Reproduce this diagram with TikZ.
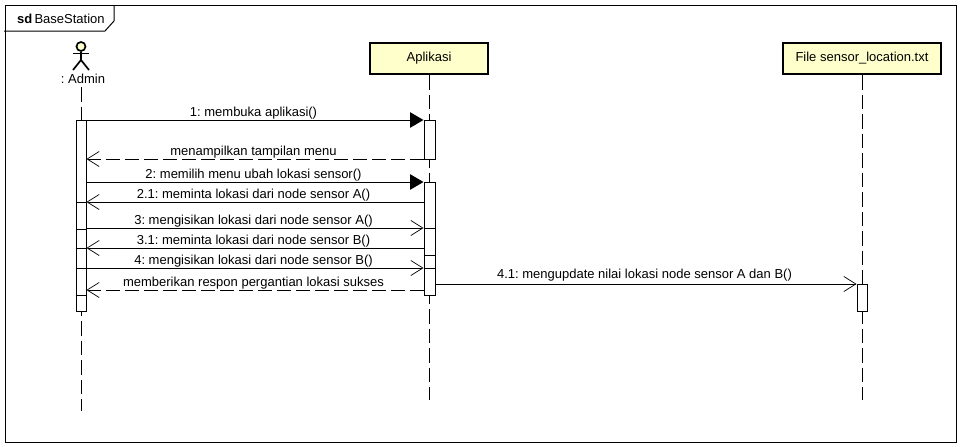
\documentclass[tikz,border=0pt]{standalone}
\usepackage{fontspec}
\setmainfont{Liberation Sans}
\usetikzlibrary{arrows.meta}
\definecolor{lifefill}{HTML}{FFFFCC}
\newcommand{\msgfont}{\fontsize{13}{15}\selectfont\frenchspacing}
\tikzset{
  frameline/.style={draw=black, line width=1pt},
  lifebox/.style  ={rectangle, draw=black, line width=2pt, fill=lifefill,
                    font=\msgfont, minimum height=31pt, inner sep=0pt},
  bar/.style      ={rectangle, draw=black, line width=1pt, fill=white,
                    minimum width=10pt, inner sep=0pt},
  barline/.style  ={draw=black, line width=1pt},
  lifeline/.style ={draw=black, line width=0.9pt, dash pattern=on 14.5pt off 5pt},
  sync/.style     ={draw=black, line width=1pt, -{Triangle[length=13.5pt,width=15.5pt]}},
  reply/.style    ={draw=black, line width=1pt, dash pattern=on 14pt off 5pt,
                    -{Straight Barb[length=12pt,width=15pt,line width=0.7pt]}},
  send/.style     ={draw=black, line width=1pt,
                    -{Straight Barb[length=12pt,width=15pt,line width=0.7pt]}},
  lbl/.style      ={font=\msgfont, midway, anchor=base, yshift=3.8pt,
                    xshift=-1.5pt, inner sep=0pt}
}
\begin{document}
\begin{tikzpicture}[x=1pt,y=-1pt]
\useasboundingbox (0,0) rectangle (961,447);

%% ---- Frame ---------------------------------------------------------
\node[frameline, rectangle, minimum width=951pt, minimum height=437pt, inner sep=0pt]
      (frame) at (480.5,223.5) {};
\node[anchor=base west, inner sep=0pt, font=\msgfont] (title) at (17,23.5)
      {\textbf{sd}\,BaseStation};
\draw[frameline] (4,31) -- (105,31) -- (114,21) -- (114,5);

%% ---- Lifelines -----------------------------------------------------
\coordinate (admtop) at (81,87);
\node[inner sep=0pt, font=\msgfont, anchor=base] (admin) at (83,83.5) {: Admin};
\node[lifebox, minimum width=118pt] (apk) at (429,58.5) {Aplikasi};
\node[lifebox, minimum width=158pt] (file) at (862,58.5) {File sensor\_location.txt};
\coordinate (admend) at (81,411);
\coordinate (apkend) at (429.5,400);
\coordinate (fileend) at (862,400);

\draw[lifeline] (admtop) -- (admend);
\draw[lifeline] (apk.south -| apkend) -- (apkend);
\draw[lifeline] (file.south) -- (fileend);

%% ---- Actor ---------------------------------------------------------
\node[circle, draw=black, line width=1.7pt, fill=lifefill, minimum size=9pt, inner sep=0pt]
      (head) at (81,46.5) {};
\draw[line width=1.7pt] (head.south) -- (81,60) -- (73,70);
\draw[line width=1.7pt] (81,60) -- (89,70);
\draw[line width=1.7pt] (73,53.5) -- (89,53.5);

%% ---- Activation bars -----------------------------------------------
\node[bar, minimum height=191pt] (adm) at (81,215.5) {};
\node[bar, minimum height=39pt, minimum width=11pt] (apka) at (429.5,139.5) {};
\node[bar, minimum height=113pt, minimum width=11pt] (apkb) at (429.5,238.5) {};
\node[bar, minimum height=27pt] (fileb) at (862,298) {};

\foreach \yy in {202,229,248,268,295}
  \draw[barline] (adm.west |- 0,\yy) -- (adm.east |- 0,\yy);
\foreach \yy in {228,255,268}
  \draw[barline] (apkb.west |- 0,\yy) -- (apkb.east |- 0,\yy);

%% ---- Messages ------------------------------------------------------
\draw[sync] (adm.east |- 0,120) -- node[lbl]{1: membuka aplikasi()} (apka.west |- 0,120);
\draw[reply] (apka.west |- 0,159) -- node[lbl]{menampilkan tampilan menu} (adm.east |- 0,159);
\draw[sync] (adm.east |- 0,182) -- node[lbl]{2: memilih menu ubah lokasi sensor()} (apkb.west |- 0,182);
\draw[send] (apkb.west |- 0,202) -- node[lbl]{2.1: meminta lokasi dari node sensor A()} (adm.east |- 0,202);
\draw[send] (adm.east |- 0,228) -- node[lbl]{3: mengisikan lokasi dari node sensor A()} (apkb.west |- 0,228);
\draw[send] (apkb.west |- 0,248) -- node[lbl]{3.1: meminta lokasi dari node sensor B()} (adm.east |- 0,248);
\draw[send] (adm.east |- 0,268) -- node[lbl]{4: mengisikan lokasi dari node sensor B()} (apkb.west |- 0,268);
\draw[reply] (apkb.west |- 0,290) -- node[lbl]{memberikan respon pergantian lokasi sukses} (adm.east |- 0,290);
\draw[send] (apkb.east |- 0,284) -- node[lbl, yshift=2pt]{4.1: mengupdate nilai lokasi node sensor A dan B()} (fileb.west |- 0,284);
\end{tikzpicture}
\end{document}
